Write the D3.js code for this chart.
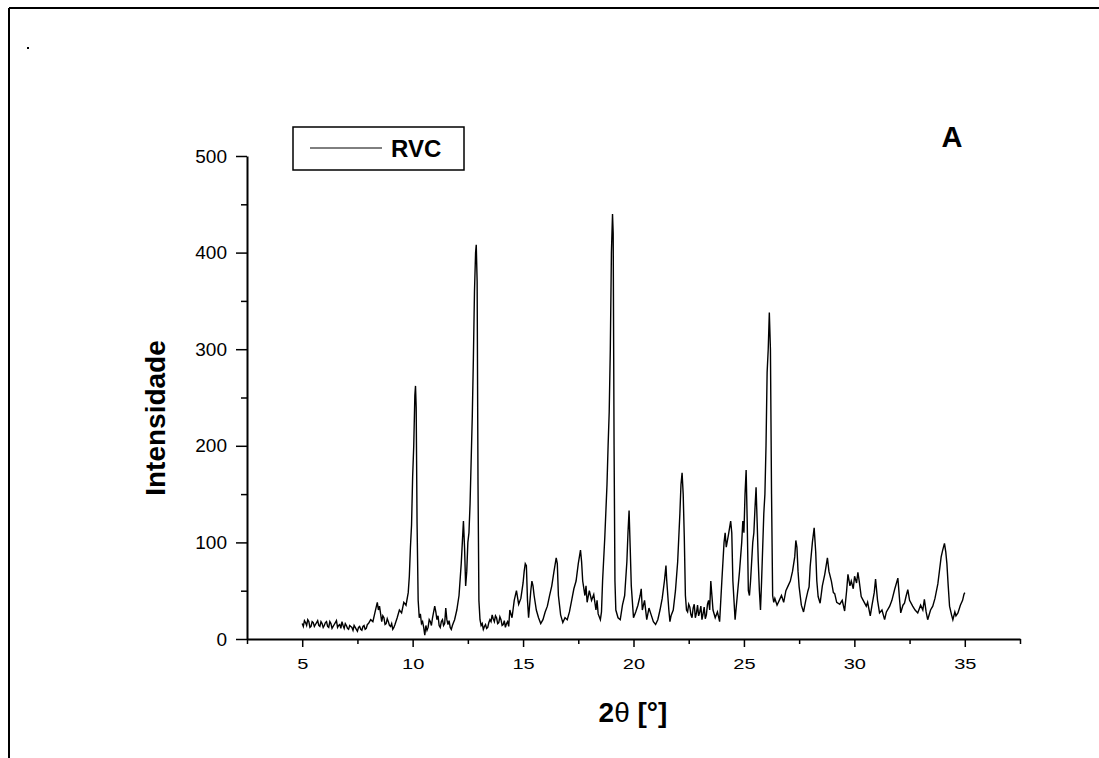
<!DOCTYPE html>
<html>
<head>
<meta charset="utf-8">
<script src="https://cdn.jsdelivr.net/npm/d3@7"></script>
<style>
  body { margin: 0; background: #fff; }
  svg { display: block; }
  text { font-family: "Liberation Sans", Arial, sans-serif; fill: #000; }
</style>
</head>
<body>
<svg id="vis"></svg>
<script>
// diffraction pattern: 2theta (deg) and intensity
const twoTheta = [
  5.0, 5.1, 5.2, 5.3, 5.4, 5.5, 5.6, 5.7, 5.8, 5.9,
  6.0, 6.1, 6.2, 6.3, 6.4, 6.5, 6.6, 6.7, 6.8, 6.9,
  7.0, 7.1, 7.2, 7.3, 7.4, 7.5, 7.6, 7.7, 7.8, 7.9,
  8.0, 8.1, 8.2, 8.3, 8.4, 8.45, 8.5, 8.6, 8.7, 8.8, 8.9,
  9.0, 9.1, 9.2, 9.3, 9.4, 9.5, 9.6, 9.7, 9.8, 9.85, 9.9, 9.95,
  10.0, 10.05, 10.1, 10.13, 10.16, 10.2, 10.25, 10.3, 10.35, 10.4, 10.5, 10.55, 10.6, 10.7, 10.8, 10.9,
  11.0, 11.05, 11.1, 11.2, 11.3, 11.4, 11.5, 11.55, 11.6, 11.7, 11.8, 11.9,
  12.0, 12.1, 12.2, 12.25, 12.3, 12.35, 12.4, 12.45, 12.5, 12.55, 12.6, 12.65, 12.7, 12.75, 12.8, 12.85, 12.88, 12.92, 12.96,
  13.0, 13.05, 13.1, 13.2, 13.3, 13.4, 13.5, 13.6, 13.7, 13.8, 13.9,
  14.0, 14.1, 14.2, 14.3, 14.4, 14.5, 14.6, 14.7, 14.8, 14.9,
  15.0, 15.05, 15.1, 15.15, 15.2, 15.25, 15.3, 15.35, 15.4, 15.45, 15.5, 15.6, 15.7, 15.8, 15.9,
  16.0, 16.1, 16.2, 16.3, 16.4, 16.5, 16.55, 16.6, 16.7, 16.8, 16.9,
  17.0, 17.1, 17.2, 17.3, 17.4, 17.5, 17.6, 17.65, 17.7, 17.8, 17.85, 17.9,
  18.0, 18.1, 18.2, 18.3, 18.35, 18.4, 18.5, 18.55, 18.6, 18.7, 18.8, 18.85, 18.9, 18.95,
  19.0, 19.05, 19.08, 19.12, 19.16, 19.2, 19.3, 19.4, 19.5, 19.6, 19.7, 19.75, 19.8, 19.85, 19.9,
  20.0, 20.1, 20.2, 20.3, 20.35, 20.4, 20.5, 20.6, 20.7, 20.8, 20.9,
  21.0, 21.1, 21.2, 21.3, 21.4, 21.47, 21.5, 21.6, 21.65, 21.7, 21.8, 21.9,
  22.0, 22.1, 22.15, 22.2, 22.25, 22.3, 22.35, 22.4, 22.5, 22.6, 22.7, 22.8, 22.9,
  23.0, 23.1, 23.2, 23.3, 23.4, 23.5, 23.55, 23.6, 23.7, 23.8, 23.9,
  24.0, 24.1, 24.15, 24.2, 24.3, 24.4, 24.45, 24.5, 24.6, 24.7, 24.8, 24.9, 24.95,
  25.0, 25.05, 25.1, 25.15, 25.2, 25.25, 25.3, 25.4, 25.45, 25.5, 25.55, 25.6, 25.65, 25.7, 25.75, 25.8, 25.9, 25.95,
  26.0, 26.05, 26.1, 26.15, 26.2, 26.25, 26.3, 26.35, 26.4, 26.5, 26.6, 26.7, 26.8, 26.9,
  27.0, 27.1, 27.2, 27.3, 27.35, 27.4, 27.45, 27.5, 27.6, 27.7, 27.8, 27.9, 27.95,
  28.0, 28.1, 28.18, 28.25, 28.3, 28.36, 28.45, 28.55, 28.66, 28.78, 28.85, 28.96,
  29.05, 29.11, 29.2, 29.34, 29.45, 29.56, 29.65, 29.71, 29.8, 29.86, 29.95,
  30.01, 30.1, 30.16, 30.22, 30.31, 30.4, 30.54, 30.6, 30.72, 30.8, 30.9, 30.96,
  31.05, 31.14, 31.25, 31.37, 31.45, 31.6, 31.7, 31.82, 31.97,
  32.05, 32.1, 32.2, 32.27, 32.35, 32.42, 32.5, 32.64, 32.75, 32.87,
  33.0, 33.1, 33.17, 33.25, 33.32, 33.45, 33.55, 33.65, 33.78, 33.85, 33.93,
  34.0, 34.08, 34.14, 34.19, 34.25, 34.31, 34.4, 34.46, 34.55, 34.6, 34.69, 34.8, 34.9, 34.96, 35.0
];
const intensity = [
  16, 19, 14, 18, 13, 17, 15, 19, 13, 16,
  14, 18, 12, 16, 13, 17, 12, 15, 18, 11,
  14, 10, 13, 9, 12, 8, 13, 9, 14, 11,
  16, 20, 18, 28, 38, 30, 34, 18, 22, 16, 18,
  13, 10, 15, 22, 30, 27, 38, 35, 48, 65, 95, 118,
  168, 200, 252, 262, 240, 120, 40, 22, 26, 16, 12, 4, 14, 12, 18, 22,
  34, 28, 20, 14, 18, 14, 32, 20, 15, 12, 14, 20,
  30, 45, 78, 100, 122, 95, 55, 70, 100, 110, 140, 185, 230, 290, 360, 400, 408, 370, 160,
  40, 20, 14, 10, 15, 12, 20, 25, 18, 22, 17,
  20, 15, 12, 18, 30, 22, 40, 50, 36, 42,
  58, 70, 78, 76, 40, 22, 36, 50, 60, 55, 45, 30, 22, 16, 20,
  28, 34, 45, 55, 70, 84, 78, 45, 25, 17, 22,
  20, 28, 40, 52, 60, 78, 92, 80, 60, 45, 55, 38,
  50, 40, 46, 30, 40, 26, 20, 28, 60, 105, 160, 200, 235, 300,
  400, 440, 420, 200, 60, 30, 22, 20, 35, 45, 80, 110, 133, 95, 55,
  22, 28, 35, 45, 52, 30, 40, 20, 32, 25, 18,
  15, 20, 30, 42, 60, 76, 62, 30, 18, 24, 30, 50,
  80, 130, 160, 172, 150, 105, 45, 30, 36, 25, 32, 22, 35,
  28, 20, 33, 25, 40, 60, 45, 30, 22, 28, 18,
  60, 100, 110, 95, 108, 122, 110, 60, 20, 45, 70, 100, 122,
  110, 150, 175, 120, 50, 45, 60, 100, 110, 135, 157, 120, 80, 50, 30, 60, 130, 150,
  200, 276, 300, 338, 300, 150, 45, 38, 42, 35, 40, 45, 38, 50,
  55, 60, 70, 85, 102, 95, 70, 54, 35, 28, 40, 50, 54,
  75, 100, 115, 90, 60, 44, 37, 55, 67, 84, 70, 60,
  48, 47, 38, 36, 40, 29, 50, 67, 55, 60, 52,
  65, 58, 69, 60, 44, 40, 34, 38, 24, 35, 48, 62,
  40, 27, 30, 20, 28, 34, 40, 51, 63,
  40, 27, 35, 37, 45, 51, 40, 34, 30, 27,
  35, 30, 41, 28, 20, 30, 34, 42, 57, 70, 85,
  92, 99, 90, 78, 55, 34, 25, 20, 28, 24, 27, 35, 40, 46, 48
];
// extra readings in the noisy flat stretches, between the points above
const noiseTheta = [
  5.05, 5.15, 5.25, 5.35, 5.45, 5.55, 5.65, 5.75, 5.85, 5.95,
  6.05, 6.15, 6.25, 6.35, 6.45, 6.55, 6.65, 6.75, 6.85, 6.95,
  7.05, 7.15, 7.25, 7.35, 7.45, 7.55, 7.65, 7.75, 7.85, 7.95,
  8.65, 8.75, 8.85, 8.95, 9.05, 9.15,
  10.45, 10.65, 10.75, 10.85, 11.15, 11.25, 11.35, 11.45, 11.65, 11.75, 11.85,
  13.15, 13.25, 13.35, 13.45, 13.55, 13.65, 13.75, 13.85, 13.95, 14.05, 14.15, 14.25, 14.35,
  22.45, 22.55, 22.65, 22.75, 22.85, 22.95, 23.05, 23.15, 23.25, 23.35, 23.45
];
const noiseIntensity = [
  13, 17, 20, 12, 18, 13, 17, 14, 18, 12,
  17, 13, 18, 11, 15, 19, 14, 11, 14, 16,
  11, 14, 12, 14, 10, 12, 10, 13, 10, 15,
  24, 15, 21, 14, 16, 12,
  18, 9, 20, 14, 24, 12, 20, 16, 19, 10, 17,
  16, 13, 11, 17, 18, 21, 24, 16, 23, 14, 19, 16, 13,
  28, 33, 22, 36, 27, 24, 34, 26, 21, 36, 30
];
const xTicks = [5, 10, 15, 20, 25, 30, 35];
const xMinor = [2.5, 7.5, 12.5, 17.5, 22.5, 27.5, 32.5, 37.5];
const yTicks = [0, 100, 200, 300, 400, 500];
const yMinor = [50, 150, 250, 350, 450];
const seriesName = "RVC";
const panelLabel = "A";

const W = 1099, H = 758;
const svg = d3.select("#vis").attr("width", W).attr("height", H);

const x = d3.scaleLinear().domain([2.5, 37.5]).range([247, 1020]);
const y = d3.scaleLinear().domain([0, 500]).range([639, 156]);

// scan frame
svg.append("line").attr("x1", 9).attr("x2", W).attr("y1", 8).attr("y2", 8)
  .attr("stroke", "#000").attr("stroke-width", 2);
svg.append("line").attr("x1", 9).attr("x2", 9).attr("y1", 8).attr("y2", H)
  .attr("stroke", "#000").attr("stroke-width", 2);
svg.append("rect").attr("x", 27).attr("y", 47).attr("width", 2).attr("height", 2).attr("fill", "#000");

// minor ticks first
svg.append("g").attr("transform", "translate(0,639)")
  .call(d3.axisBottom(x).tickValues(xMinor).tickSize(5).tickFormat(""))
  .call(g => g.select(".domain").remove())
  .selectAll("line").attr("stroke-width", 1.5);
svg.append("g").attr("transform", "translate(247,0)")
  .call(d3.axisLeft(y).tickValues(yMinor).tickSize(6).tickFormat(""))
  .call(g => g.select(".domain").remove())
  .selectAll("line").attr("stroke-width", 1.5);

const xAxis = svg.append("g").attr("transform", "translate(0,639)")
  .call(d3.axisBottom(x).tickValues(xTicks).tickSize(8).tickSizeOuter(0).tickPadding(12));
xAxis.select(".domain").attr("stroke-width", 2);
xAxis.selectAll(".tick line").attr("stroke-width", 1.5);
xAxis.selectAll(".tick text")
  .style("font-family", "'Liberation Sans', Arial, sans-serif")
  .style("font-size", "14.5px")
  .attr("transform", "scale(1.38,1)");

const yAxis = svg.append("g").attr("transform", "translate(247,0)")
  .call(d3.axisLeft(y).tickValues(yTicks).tickSize(11).tickSizeOuter(0).tickPadding(9));
yAxis.select(".domain").attr("stroke-width", 2);
yAxis.selectAll(".tick line").attr("stroke-width", 1.5);
yAxis.selectAll(".tick text")
  .style("font-family", "'Liberation Sans', Arial, sans-serif")
  .style("font-size", "19px");

// the trace
const pts = twoTheta.map((t, i) => [t, intensity[i]])
  .concat(noiseTheta.map((t, i) => [t, noiseIntensity[i]]))
  .sort((a, b) => a[0] - b[0]);
svg.append("path")
  .datum(pts)
  .attr("fill", "none")
  .attr("stroke", "#000")
  .attr("stroke-width", 1.4)
  .attr("d", d3.line().x(d => x(d[0])).y(d => y(d[1])));

// legend
svg.append("rect").attr("x", 293).attr("y", 127).attr("width", 171).attr("height", 43)
  .attr("fill", "none").attr("stroke", "#000").attr("stroke-width", 1.5);
svg.append("line").attr("x1", 310).attr("x2", 382).attr("y1", 148).attr("y2", 148)
  .attr("stroke", "#000").attr("stroke-width", 1);
svg.append("text").attr("x", 391).attr("y", 157)
  .style("font-size", "24px").style("font-weight", "bold").text(seriesName);

svg.append("text").attr("x", 952).attr("y", 147).attr("text-anchor", "middle")
  .style("font-size", "29px").style("font-weight", "bold").text(panelLabel);

// axis titles
const xt = svg.append("text").attr("x", 633).attr("y", 722).attr("text-anchor", "middle")
  .style("font-size", "28px").style("font-weight", "bold");
xt.append("tspan").text("2");
xt.append("tspan").style("font-weight", "normal").text("θ");
xt.append("tspan").text(" [°]");

svg.append("text").attr("transform", "translate(165,418) rotate(-90)")
  .attr("text-anchor", "middle")
  .style("font-size", "28px").style("font-weight", "bold").text("Intensidade");
</script>
</body>
</html>
